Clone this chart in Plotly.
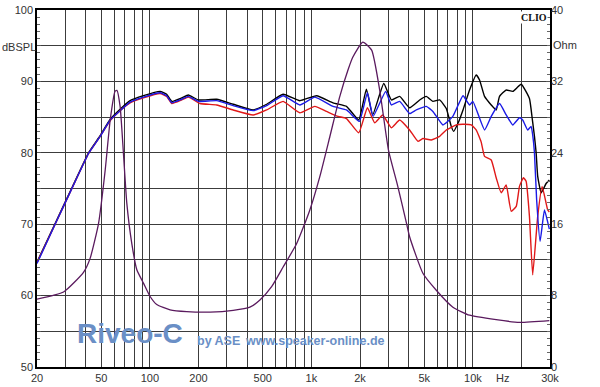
import numpy as np
import plotly.graph_objects as go

# ---------------- data ----------------
black_f = [20, 25.9, 32.9, 41.7, 49.2, 56.8, 65.4, 75.4, 91.2, 115.6, 127, 136.6, 157.4, 173, 199.5,
           259, 328, 436, 528, 668, 848, 1076, 1362, 1648, 1728, 1964, 2190, 2394, 2805, 3127, 3518,
           4054, 4680, 5140, 5650, 6220, 6840, 7340, 7590, 8070, 8680, 9530, 10470, 10990, 11800,
           12980, 13930, 14610, 16070, 17650, 19900, 22380, 23340, 24040, 24620, 25180, 26440, 28380, 29720]
black_db = [64.7, 70.1, 75.1, 80.0, 82.4, 84.7, 86.1, 87.3, 88.0, 88.6, 88.2, 87.2, 87.7, 88.1, 87.4,
            87.5, 86.8, 86.0, 86.8, 88.2, 87.3, 88.0, 87.0, 86.5, 86.0, 84.6, 88.9, 85.3, 89.7, 87.4, 87.9,
            86.3, 87.4, 87.9, 87.2, 87.4, 86.2, 83.7, 83.0, 84.1, 86.0, 88.8, 90.9, 90.2, 87.9,
            86.7, 86.0, 87.9, 88.8, 88.6, 89.6, 87.6, 84.6, 82.3, 80.0, 76.7, 74.4, 75.7, 76.2]

blue_f = [20, 25.9, 32.9, 41.7, 49.2, 56.8, 65.4, 75.4, 91.2, 115.6, 127, 136.6, 157.4, 173, 199.5,
          259, 328, 436, 528, 668, 848, 1050, 1362, 1648, 1728, 1980, 2222, 2410, 2884, 3127, 3518,
          4054, 4460, 5140, 5650, 6520, 7510, 8680, 9530, 9990, 11800, 12980, 14610, 16070, 17650,
          19420, 20330, 21830, 22920, 23440, 24040, 24800, 26060, 27720, 29720]
blue_db = [64.5, 70.0, 75.0, 79.9, 82.3, 84.6, 85.9, 87.1, 87.8, 88.4, 88.0, 87.0, 87.5, 87.9, 87.2,
           87.3, 86.6, 85.9, 86.6, 88.0, 86.7, 87.8, 86.5, 86.0, 85.6, 84.4, 88.4, 85.1, 88.6, 86.7, 87.2,
           85.5, 86.0, 86.5, 85.8, 83.9, 85.1, 88.0, 86.7, 87.2, 83.2, 85.1, 86.9, 85.3, 83.9,
           84.9, 84.6, 83.2, 83.7, 82.5, 80.0, 73.4, 67.6, 72.0, 69.3]

red_f = [20, 25.9, 32.9, 41.7, 49.2, 56.8, 65.4, 75.4, 91.2, 115.6, 127, 136.6, 157.4, 173, 204,
         259, 328, 436, 528, 668, 848, 1050, 1239, 1462, 1648, 1964, 2222, 2466, 2761, 3127, 3518,
         4054, 4566, 4900, 5520, 6220, 6840, 7890, 8630, 9770, 10470, 11250, 11800, 12980, 13930,
         14960, 16070, 17260, 18540, 19420, 20560, 21340, 22380, 23440, 25180, 26820, 29040, 29720]
red_db = [64.6, 70.0, 75.0, 79.9, 82.3, 84.5, 85.9, 87.0, 87.7, 88.3, 87.9, 86.9, 87.4, 87.8, 86.9,
          86.7, 86.0, 85.3, 86.0, 87.2, 85.6, 86.5, 85.8, 85.1, 84.8, 82.8, 86.3, 84.2, 85.3, 83.5, 84.6,
          83.2, 81.6, 82.0, 81.8, 82.3, 83.2, 83.9, 84.0, 83.9, 83.2, 81.5, 79.5, 79.0, 76.5,
          74.4, 75.5, 71.8, 72.5, 75.3, 76.5, 76.0, 71.1, 62.9, 71.1, 75.3, 72.0, 71.7]

imp_f = [20, 29.2, 38.8, 42.7, 48.1, 52.9, 56.8, 60.9, 62.5, 65.4, 68.6, 72, 77.3, 83, 91.2, 100.3,
         110.3, 133.3, 169, 236, 328, 416, 480, 567, 668, 809, 978, 1126, 1300, 1498, 1686, 1803,
         2080, 2360, 2648, 3000, 3420, 3890, 4054, 4900, 5930, 7514, 9530, 13930, 19420, 29720]
imp_ohm = [7.6, 8.4, 10.6, 12.2, 16.1, 22.1, 27.7, 30.9, 31.0, 29.2, 23.9, 18.3, 13.8, 10.9, 9.4, 7.9,
           7.0, 6.4, 6.2, 6.15, 6.35, 6.7, 7.5, 9.0, 11.2, 13.8, 17.6, 21.3, 25.8, 30.3, 33.3, 34.7,
           36.4, 35.5, 31.0, 24.3, 20.3, 16.0, 14.6, 10.5, 8.6, 6.7, 5.8, 5.3, 5.0, 5.2]

x_grid = [20, 30, 40, 50, 60, 70, 80, 90, 100, 200, 300, 400, 500, 600, 700, 800, 900, 1000,
          2000, 3000, 4000, 5000, 6000, 7000, 8000, 9000, 10000, 20000, 30000]
x_labels = ["20", "", "", "50", "", "", "", "", "100", "200", "", "", "500", "", "", "", "", "1k",
            "2k", "", "", "5k", "", "", "", "", "10k", "", "30k"]
y_grid = [50, 55, 60, 65, 70, 75, 80, 85, 90, 95, 100]
y_labels = ["50", "", "60", "", "70", "", "80", "", "90", "", "100"]
ohm_ticks = [0, 8, 16, 24, 32, 40]

# ---------------- figure ----------------
fig = go.Figure()
spl_line = dict(width=1.4, shape="spline", smoothing=0.4)
fig.add_trace(go.Scatter(x=black_f, y=black_db, mode="lines", line=dict(color="#000000", **spl_line)))
fig.add_trace(go.Scatter(x=red_f, y=red_db, mode="lines", line=dict(color="#e01818", **spl_line)))
fig.add_trace(go.Scatter(x=blue_f, y=blue_db, mode="lines", line=dict(color="#1a1ae6", **spl_line)))
fig.add_trace(go.Scatter(x=imp_f, y=imp_ohm, mode="lines", yaxis="y2",
                         line=dict(color="#5a1a5e", width=1.3, shape="spline", smoothing=0.5)))

grid_col = "#3c3c3c"
tick_font = dict(family="Liberation Sans, Arial, sans-serif", size=11, color="#333333")

fig.update_layout(
    width=600, height=387,
    margin=dict(l=37, r=50, t=10, b=20, autoexpand=False),
    paper_bgcolor="white", plot_bgcolor="white",
    showlegend=False,
    xaxis=dict(type="log", range=[np.log10(20), np.log10(30000)], automargin=False,
               tickmode="array", tickvals=x_grid, ticktext=x_labels,
               showgrid=True, gridcolor=grid_col, gridwidth=1,
               showline=True, linecolor="black", linewidth=1.5, mirror=True,
               ticks="", tickfont=tick_font, zeroline=False),
    yaxis=dict(range=[50, 100], tickmode="array", tickvals=y_grid, ticktext=y_labels, automargin=False,
               showgrid=True, gridcolor=grid_col, gridwidth=1,
               showline=True, linecolor="black", linewidth=1.5, mirror=True,
               ticks="inside", ticklen=4, tickcolor="#555", tickfont=tick_font, zeroline=False,
               minor=dict(tickmode="linear", tick0=50, dtick=1, ticks="inside", ticklen=3,
                          tickcolor="#666", showgrid=False)),
    yaxis2=dict(range=[0, 40], overlaying="y", side="right", anchor="x", automargin=False,
                tickmode="array", tickvals=ohm_ticks, showgrid=False, zeroline=False,
                ticks="inside", ticklen=4, tickcolor="#555", tickfont=tick_font,
                minor=dict(tickmode="linear", tick0=0, dtick=0.8, ticks="inside", ticklen=3,
                           tickcolor="#666", showgrid=False)),
)

wm = "#6a8fc6"
annots = [
    dict(text="dBSPL", x=-0.035, y=0.896, xref="paper", yref="paper", showarrow=False,
         xanchor="center", yanchor="middle", font=tick_font),
    dict(text="Ohm", x=1.03, y=0.902, xref="paper", yref="paper", showarrow=False,
         xanchor="center", yanchor="middle", font=tick_font),
    dict(text="Hz", x=0.9075, y=-0.031, xref="paper", yref="paper", showarrow=False,
         xanchor="center", yanchor="middle", font=tick_font),
    dict(text="<b>CLIO</b>", x=0.996, y=0.996, xref="paper", yref="paper", showarrow=False,
         xanchor="right", yanchor="top", bgcolor="white", borderpad=0,
         font=dict(family="Liberation Serif, Times New Roman, serif", size=10, color="#111")),
    dict(text="<b>Riveo-C</b>", x=0.074, y=0.095, xref="paper", yref="paper", showarrow=False,
         xanchor="left", yanchor="middle",
         font=dict(family="Liberation Sans, Arial, sans-serif", size=28, color=wm)),
    dict(text="<b>by ASE</b>", x=0.3077, y=0.072, xref="paper", yref="paper", showarrow=False,
         xanchor="left", yanchor="middle",
         font=dict(family="Liberation Sans, Arial, sans-serif", size=12.5, color=wm)),
    dict(text="<b>www.speaker-online.de</b>", x=0.401, y=0.072, xref="paper", yref="paper",
         showarrow=False, xanchor="left", yanchor="middle",
         font=dict(family="Liberation Sans, Arial, sans-serif", size=12.5, color=wm)),
]
fig.update_layout(annotations=annots)

fig.write_html("out.html", config={"displayModeBar": False},
               post_script="document.body.style.margin='0';document.body.style.overflow='hidden';")
